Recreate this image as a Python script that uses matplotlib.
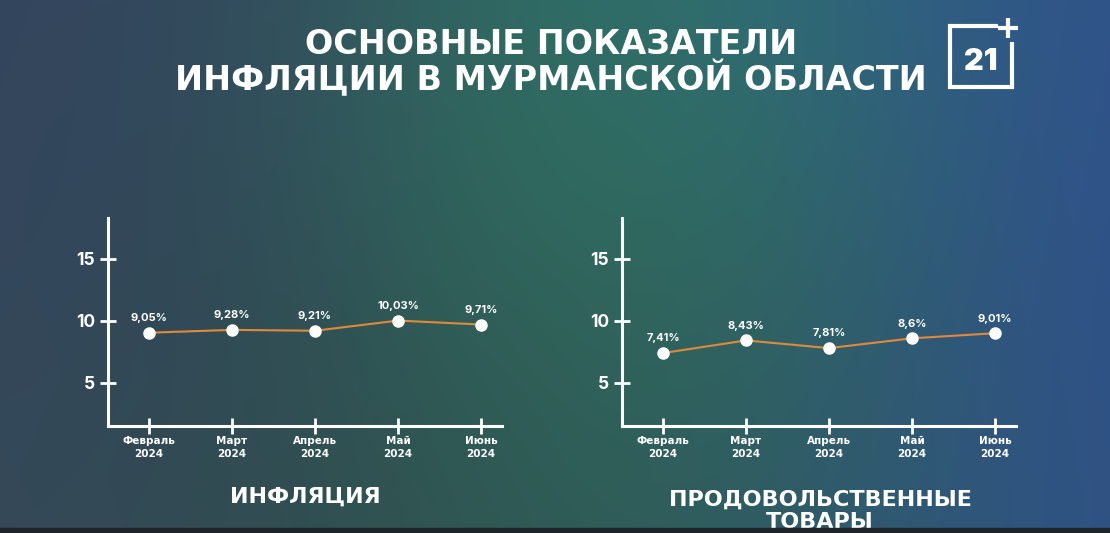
import numpy as np
import matplotlib.pyplot as plt
from matplotlib.colors import to_rgb

plt.rcParams['font.family'] = ['Inter', 'DejaVu Sans']
WIDE = ['DejaVu Sans']

# ---- data ----
months = ['Февраль\n2024', 'Март\n2024', 'Апрель\n2024', 'Май\n2024', 'Июнь\n2024']
inflation = [9.05, 9.28, 9.21, 10.03, 9.71]
food = [7.41, 8.43, 7.81, 8.6, 9.01]
inflation_labels = ['9,05%', '9,28%', '9,21%', '10,03%', '9,71%']
food_labels = ['7,41%', '8,43%', '7,81%', '8,6%', '9,01%']
y_ticks = [5, 10, 15]

title_lines = ['ОСНОВНЫЕ ПОКАЗАТЕЛИ', 'ИНФЛЯЦИИ В МУРМАНСКОЙ ОБЛАСТИ']
panel_titles = ['ИНФЛЯЦИЯ', 'ПРОДОВОЛЬСТВЕННЫЕ\nТОВАРЫ']

W, H = 1110, 533
fig = plt.figure(figsize=(W / 100, H / 100), dpi=100)

# ---- soft gradient backdrop ----
bg = fig.add_axes([0, 0, 1, 1], zorder=-5)
anchors = [
    (0, 0, '#34445e'), (300, 0, '#34475e'), (560, 90, '#2f8466'),
    (560, 250, '#2f6e5c'), (820, 0, '#2f6680'), (1110, 0, '#2f4f8c'),
    (1110, 300, '#2f4f8e'), (1050, 500, '#30508a'), (850, 500, '#2f5a70'),
    (600, 500, '#305a4c'), (300, 500, '#32504f'), (0, 500, '#37495a'),
    (0, 250, '#33475e'), (300, 330, '#2d3f4f'), (700, 330, '#2f6456'),
]
yy, xx = np.mgrid[0:H, 0:W].astype(float)
num = np.zeros((H, W, 3))
den = np.zeros((H, W))
sig = 190.0
for ax_, ay_, c in anchors:
    w = np.exp(-((xx - ax_) ** 2 + (yy - ay_) ** 2) / (2 * sig ** 2)) + 1e-9
    num += w[..., None] * np.array(to_rgb(c))
    den += w
img = num / den[..., None]
bg.imshow(img, extent=[0, W, H, 0], aspect='auto', interpolation='bilinear')
bg.set_xlim(0, W)
bg.set_ylim(H, 0)
bg.axis('off')

# dark strip along the bottom edge
bg.fill_between([0, W], [H - 5, H - 5], [H, H], color='#1f2428', zorder=2)

# ---- header ----
bg.text(551, 45, title_lines[0], color='white', fontsize=24,
        fontweight='bold', family=WIDE, ha='center', va='center')
bg.text(551, 79, title_lines[1], color='white', fontsize=24,
        fontweight='bold', family=WIDE, ha='center', va='center')

# logo: open square with a plus and "21"
lw_logo = 3.0
bg.plot([998, 950, 950, 1012, 1012], [26, 26, 87, 87, 42], color='white',
        lw=lw_logo, solid_capstyle='butt', solid_joinstyle='miter')
bg.plot([998, 1018], [28, 28], color='white', lw=lw_logo, solid_capstyle='butt')
bg.plot([1008, 1008], [18, 38], color='white', lw=lw_logo, solid_capstyle='butt')
bg.text(981, 62, '21', color='white', fontsize=22, fontweight='black',
        ha='center', va='center')


def draw_panel(left_px, values, labels, heading, heading_xy):
    right_px = left_px + 4.75 * 83
    top_px, bottom_px = 218, 426
    ax = fig.add_axes([left_px / W, (H - bottom_px) / H,
                       (right_px - left_px) / W, (bottom_px - top_px) / H])
    ax.patch.set_alpha(0)
    x = np.arange(len(values))
    ax.plot(x, values, color='#e0893a', lw=1.5, zorder=3)
    ax.plot(x, values, 'o', color='white', markersize=8, zorder=4, clip_on=False)
    for xi, v, lab in zip(x, values, labels):
        ax.annotate(lab, (xi, v), xytext=(0, 7), textcoords='offset points',
                    ha='center', va='bottom', color='white', fontsize=8,
                    fontweight='bold')
    ax.set_xlim(-0.5, 4.25)
    ax.set_ylim(1.53, 18.3)
    ax.set_xticks(x)
    ax.set_xticklabels(months, fontsize=7.5, fontweight='bold', color='white',
                       linespacing=1.4, family=WIDE)
    ax.set_yticks(y_ticks)
    ax.set_yticklabels([str(t) for t in y_ticks], fontsize=12.5,
                       fontweight='bold', color='white')
    ax.tick_params(axis='both', direction='inout', length=12, width=2,
                   color='white')
    ax.tick_params(axis='x', pad=1)
    ax.tick_params(axis='y', pad=3)
    for s in ['top', 'right']:
        ax.spines[s].set_visible(False)
    for s in ['left', 'bottom']:
        ax.spines[s].set_color('white')
        ax.spines[s].set_linewidth(2.2)
    bg.text(heading_xy[0], heading_xy[1], heading, color='white', fontsize=16,
            fontweight='bold', family=WIDE, ha='center', va='center',
            linespacing=1.15, zorder=1)
    return ax


draw_panel(107.5, inflation, inflation_labels, panel_titles[0], (305, 497))
draw_panel(621.5, food, food_labels, panel_titles[1], (820, 511))

fig.savefig('out.png', dpi=100)
